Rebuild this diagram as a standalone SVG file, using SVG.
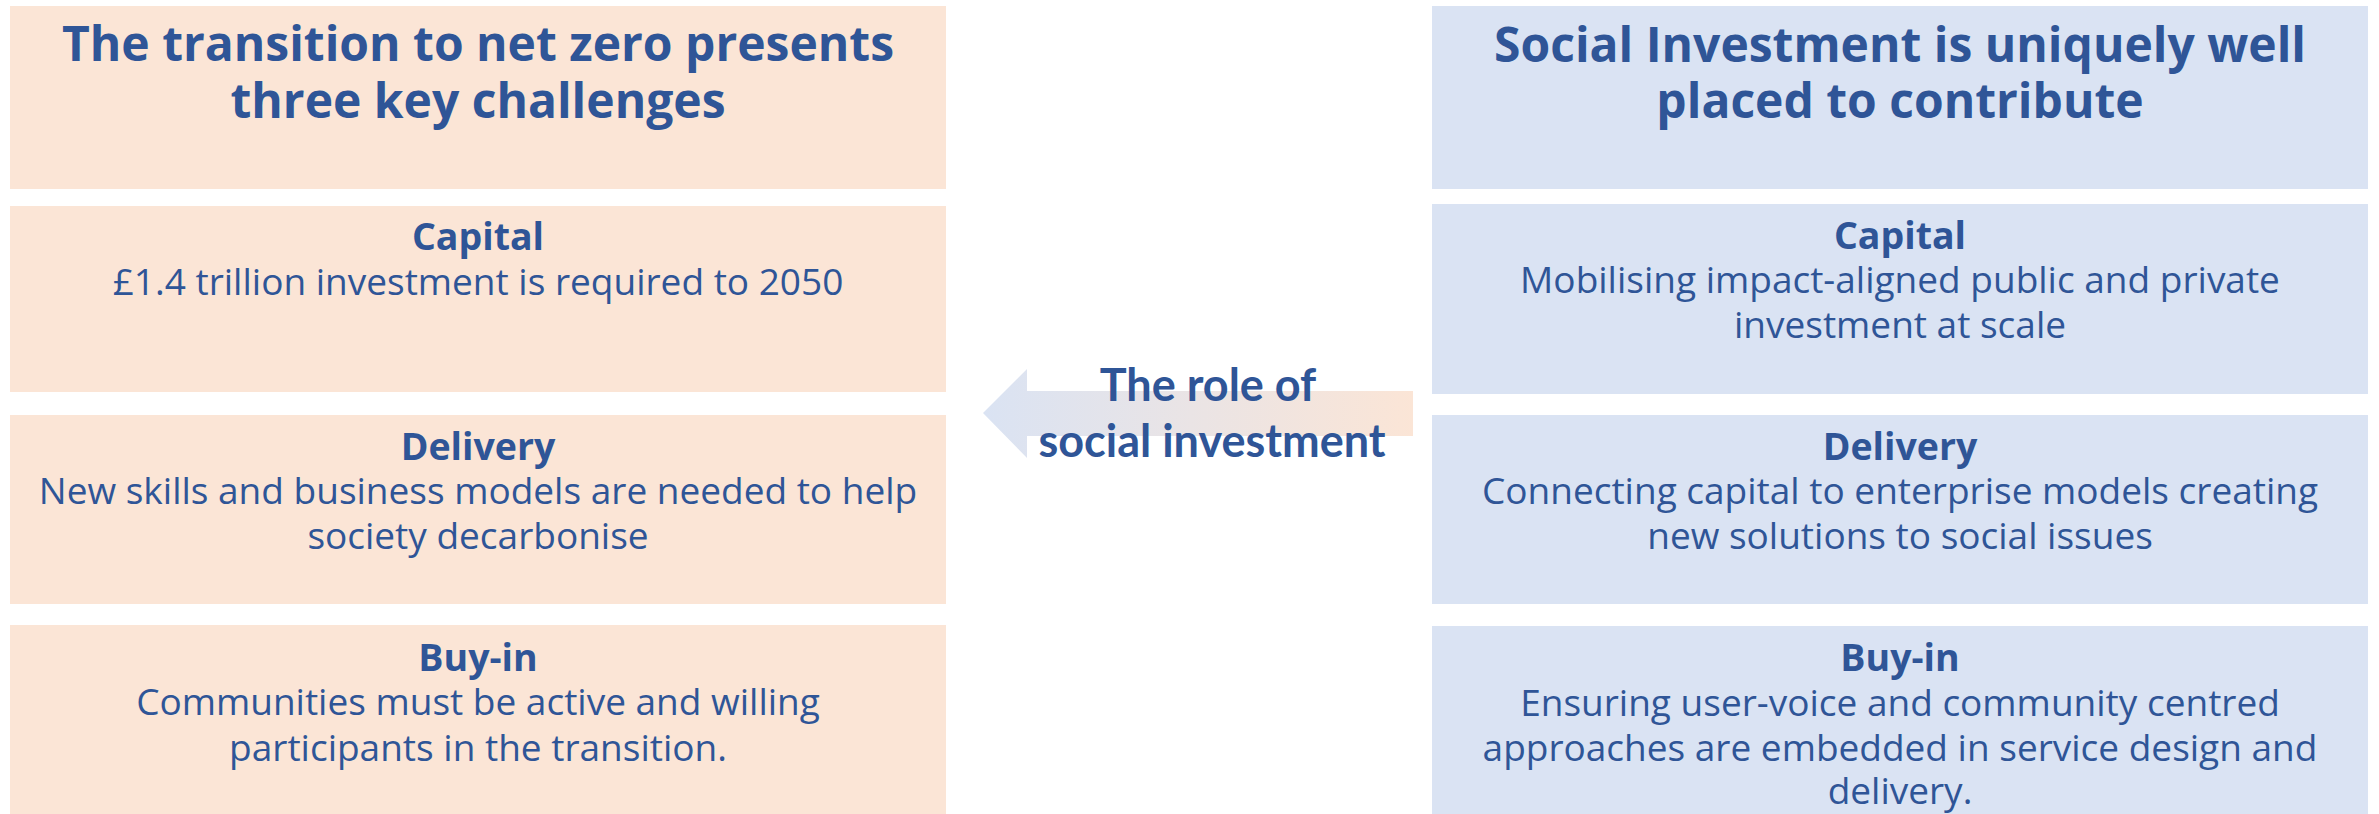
<svg xmlns="http://www.w3.org/2000/svg" width="2379" height="814" viewBox="0 0 2379 814">
  <style>
    .peach { fill: #FBE5D6; }
    .blue { fill: #DAE3F3; }
    text { font-family: "Open Sans", "Liberation Sans", sans-serif; fill: #2F5597; text-anchor: middle; }
    .title { font-size: 48px; font-weight: 700; }
    .head { font-size: 37.5px; font-weight: 700; }
    .body { font-size: 37px; font-weight: 400; }
    .role { font-family: Lato, "Open Sans", sans-serif; font-size: 45px; font-weight: 700; }
  </style>
  <defs>
    <linearGradient id="arrowFill" gradientUnits="userSpaceOnUse" x1="983" y1="0" x2="1413" y2="0">
      <stop offset="0" stop-color="#DAE3F3"/>
      <stop offset="1" stop-color="#FBE5D6"/>
    </linearGradient>
  </defs>
  <rect width="2379" height="814" fill="#FFFFFF"/>

  <!-- Left column: challenges -->
  <g id="challenges-title">
    <rect class="peach" x="10" y="6" width="936" height="183"/>
    <text class="title" x="478" y="61">The transition to net zero presents</text>
    <text class="title" x="478" y="118">three key challenges</text>
  </g>
  <g id="challenge-capital">
    <rect class="peach" x="10" y="206" width="936" height="186"/>
    <text class="head" x="478" y="250">Capital</text>
    <text class="body" x="478" y="295">£1.4 trillion investment is required to 2050</text>
  </g>
  <g id="challenge-delivery">
    <rect class="peach" x="10" y="415" width="936" height="189"/>
    <text class="head" x="478" y="460">Delivery</text>
    <text class="body" x="478" y="504">New skills and business models are needed to help</text>
    <text class="body" x="478" y="549">society decarbonise</text>
  </g>
  <g id="challenge-buyin">
    <rect class="peach" x="10" y="625" width="936" height="189"/>
    <text class="head" x="478" y="671">Buy-in</text>
    <text class="body" x="478" y="715">Communities must be active and willing</text>
    <text class="body" x="478" y="761">participants in the transition.</text>
  </g>

  <!-- Right column: contributions -->
  <g id="contribution-title">
    <rect class="blue" x="1432" y="6" width="936" height="183"/>
    <text class="title" x="1900" y="62">Social Investment is uniquely well</text>
    <text class="title" x="1900" y="118">placed to contribute</text>
  </g>
  <g id="contribution-capital">
    <rect class="blue" x="1432" y="204" width="936" height="190"/>
    <text class="head" x="1900" y="249">Capital</text>
    <text class="body" x="1900" y="293">Mobilising impact-aligned public and private</text>
    <text class="body" x="1900" y="338">investment at scale</text>
  </g>
  <g id="contribution-delivery">
    <rect class="blue" x="1432" y="415" width="936" height="189"/>
    <text class="head" x="1900" y="460">Delivery</text>
    <text class="body" x="1900" y="504">Connecting capital to enterprise models creating</text>
    <text class="body" x="1900" y="549">new solutions to social issues</text>
  </g>
  <g id="contribution-buyin">
    <rect class="blue" x="1432" y="626" width="936" height="188"/>
    <text class="head" x="1900" y="671">Buy-in</text>
    <text class="body" x="1900" y="716">Ensuring user-voice and community centred</text>
    <text class="body" x="1900" y="761">approaches are embedded in service design and</text>
    <text class="body" x="1900" y="804">delivery.</text>
  </g>

  <!-- Connector: block arrow pointing from contributions to challenges -->
  <g id="connectors">
    <polygon fill="url(#arrowFill)" points="983,413 1027,369 1027,391 1413,391 1413,436 1027,436 1027,458"/>
  </g>
  <g id="role-label">
    <text class="role" x="1208" y="401">The role of</text>
    <text class="role" x="1212" y="457">social investment</text>
  </g>
</svg>
